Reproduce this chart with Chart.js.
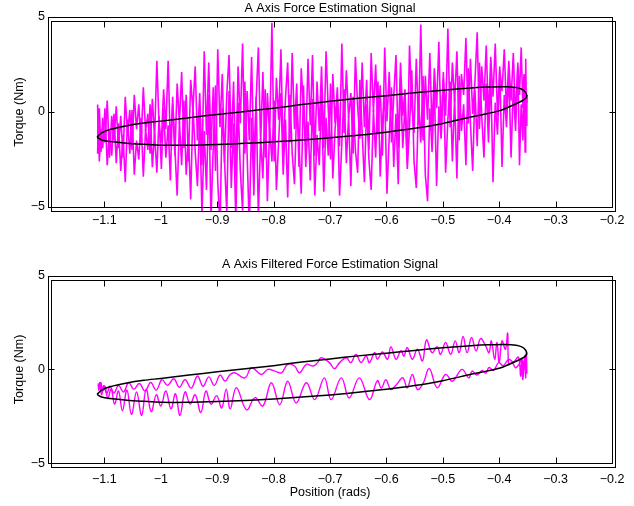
<!DOCTYPE html>
<html>
<head>
<meta charset="utf-8">
<script src="https://cdn.jsdelivr.net/npm/chart.js@4/dist/chart.umd.min.js"></script>
<style>
  html, body { margin: 0; padding: 0; background: #fff; }
  #wrap { position: relative; width: 634px; height: 506px; overflow: hidden; background: #fff; }
  #wrap canvas { position: absolute; left: 0; }
  #forceRaw { top: 0; }
  #forceFiltered { top: 253px; }
</style>
</head>
<body>
<div id="wrap">
  <canvas id="forceRaw" width="634" height="253"></canvas>
  <canvas id="forceFiltered" width="634" height="253"></canvas>
</div>
<script>
// Axis ticks
const xTickValues = [-1.1, -1.0, -0.9, -0.8, -0.7, -0.6, -0.5, -0.4, -0.3, -0.2];
const yTickValues = [-5, 0, 5];

// Model loop (black): position (rads) and torque (Nm), traced once around
const modelPosition = [-1.113, -1.105, -1.09, -1.06, -1.03, -1.0, -0.95, -0.9, -0.85, -0.8, -0.75, -0.7, -0.65, -0.6, -0.55, -0.5, -0.45, -0.42, -0.39, -0.37, -0.36, -0.354, -0.351, -0.353, -0.36, -0.38, -0.40, -0.43, -0.45, -0.5, -0.55, -0.6, -0.65, -0.7, -0.75, -0.8, -0.85, -0.9, -0.95, -1.0, -1.03, -1.06, -1.09, -1.105, -1.113];
const modelTorque = [-1.33, -1.10, -0.92, -0.72, -0.58, -0.48, -0.30, -0.13, 0.03, 0.20, 0.39, 0.56, 0.72, 0.86, 1.01, 1.15, 1.26, 1.31, 1.33, 1.29, 1.20, 1.06, 0.86, 0.72, 0.58, 0.30, 0.06, -0.14, -0.26, -0.60, -0.86, -1.06, -1.22, -1.36, -1.47, -1.57, -1.65, -1.71, -1.75, -1.75, -1.70, -1.64, -1.55, -1.47, -1.33];

// Raw estimate: sample positions shared by the outgoing and returning strokes
const rawPosition = [
  -1.112, -1.111, -1.109, -1.106, -1.103, -1.099, -1.095, -1.091, -1.087, -1.083,
  -1.079, -1.075, -1.071, -1.067, -1.063, -1.059, -1.055, -1.051, -1.047, -1.043,
  -1.039, -1.035, -1.031, -1.027, -1.023, -1.019, -1.015, -1.011, -1.007, -1.003,
  -0.999, -0.995, -0.991, -0.987, -0.983, -0.979, -0.975, -0.971, -0.967, -0.963,
  -0.959, -0.955, -0.951, -0.947, -0.943, -0.939, -0.935, -0.931, -0.927, -0.923,
  -0.919, -0.915, -0.911, -0.907, -0.903, -0.899, -0.895, -0.891, -0.887, -0.883,
  -0.879, -0.875, -0.871, -0.867, -0.863, -0.859, -0.855, -0.851, -0.847, -0.843,
  -0.839, -0.835, -0.831, -0.827, -0.823, -0.819, -0.815, -0.811, -0.807, -0.803,
  -0.799, -0.795, -0.791, -0.787, -0.783, -0.779, -0.775, -0.771, -0.767, -0.763,
  -0.759, -0.755, -0.751, -0.747, -0.743, -0.739, -0.735, -0.731, -0.727, -0.723,
  -0.719, -0.715, -0.711, -0.707, -0.703, -0.699, -0.695, -0.691, -0.687, -0.683,
  -0.679, -0.675, -0.671, -0.667, -0.663, -0.659, -0.655, -0.651, -0.647, -0.643,
  -0.639, -0.635, -0.631, -0.627, -0.623, -0.619, -0.615, -0.611, -0.607, -0.603,
  -0.599, -0.595, -0.591, -0.587, -0.583, -0.579, -0.575, -0.571, -0.567, -0.563,
  -0.559, -0.555, -0.551, -0.547, -0.543, -0.539, -0.535, -0.531, -0.527, -0.523,
  -0.519, -0.515, -0.511, -0.507, -0.503, -0.499, -0.495, -0.491, -0.487, -0.483,
  -0.479, -0.475, -0.471, -0.467, -0.463, -0.459, -0.455, -0.451, -0.447, -0.443,
  -0.439, -0.435, -0.431, -0.427, -0.423, -0.419, -0.415, -0.411, -0.407, -0.403,
  -0.399, -0.395, -0.391, -0.387, -0.383, -0.379, -0.375, -0.371, -0.367, -0.364,
  -0.361, -0.358, -0.356, -0.354, -0.353, -0.352, -0.351
];
const rawTorqueOut = [
  0.4, -1.8, 0.2, -2.1, -0.3, -1.6, 0.6, -2.4, -0.2, -1.5,
  0.3, -1.9, -0.2, -2.4, 0.8, -1.2, 0.1, -2.0, 0.9, -0.9, 0.4, -1.7, 1.3, -1.0, -0.1, -2.2, 0.7, -1.4, 2.7, -0.8,
  -1.6, 1.2, -0.9, 2.7, -1.8, 0.4, -2.3, 1.5, -0.6, 2.1, -1.9, 0.9, -2.6, 1.7, 0.1, 2.4, -1.5, 1.0, -2.8, 3.2,
  -1.2, 2.6, -2.0, 1.3, -3.1, 3.3, -0.8, 2.0, -2.7, 0.9, 3.0, -1.9, 1.6, -3.4, 2.4, -0.6, 3.6, -2.2, 1.1, -1.5, 2.9, -2.8, 0.6, 3.4, -1.7,
  2.1, -2.4, 1.0, -1.3, 4.7, -2.6, 1.8, -0.4, 3.3, -2.1, 0.7, 2.6, -1.6, 3.1, -0.9, 1.5, -2.9, 2.3, 0.2, -1.8, 2.8, -0.7, 3.0, -2.3, 1.6,
  -1.0, 2.4, -1.9, 3.2, 0.1, -2.5, 2.0, -0.6, 1.3, -1.8, 3.6, -1.1, 2.2, -0.3, 1.0, -2.2, 2.9, 0.3, -1.4, 2.6, -0.8, 1.7, -2.0, 3.1, 0.0,
  2.5, -1.2, 1.4, -2.3, 3.4, -0.5, 2.1, -1.6, 0.8, 3.0, -1.9, 2.6, -0.2, 1.2, -2.6, 3.5, 0.4, -1.1, 2.8, -0.7, 4.6, -1.5, 1.9, -0.4, 3.1,
  -1.0, 2.3, 0.2, 3.7, -1.3, 1.8, -0.2, 4.4, -0.8, 2.6, 0.5, 3.2, -1.5, 2.0, 0.9, 3.9, -0.6, 2.8, -0.1, 1.6, 4.2, -0.9, 2.4, 0.6, 3.5,
  -0.4, 2.9, 0.8, 3.6, -0.2, 2.2, 1.1, 3.3, 0.0, 2.7,
  0.6, 3.1, -0.3, 2.4, 0.9, 3.4, 0.2, 2.0, 1.2, 2.8, 0.5, 0.9
];
const rawTorqueBack = [
  -2.2, -0.3, -2.6, -0.9, -1.9, 0.2, -2.8, -1.0, -2.3, -0.1,
  -2.7, -0.6, -3.1, -1.2, -3.7, -0.4, -2.2, 0.1, -3.3, -1.5, -2.5, -0.3, -3.4, -0.9, -2.0, 0.4, -2.9, -1.1, -3.2, -0.2,
  -3.0, 0.2, -2.4, -0.7, -3.6, 0.8, -1.9, -4.4, -0.5, -2.8, 0.6, -3.3, -1.2, -4.6, 0.3, -2.1, -3.9, -0.2, -5.4, -1.0,
  -4.1, 0.9, -5.6, -1.8, 1.4, -3.7, -6.0, 0.2, -2.6, -5.3, 1.1, -4.0, -0.6, -5.8, 0.5, -3.1, -5.2, 1.6, -2.2, -6.1, -0.3, -4.4, 0.8, -5.5, -1.4,
  -3.5, 1.2, -4.7, -0.8, -2.6, 0.6, -4.1, -1.5, 1.0, -3.3, -0.4, -4.5, 0.9, -2.2, -3.8, 0.3, -1.7, -4.3, 1.4, -2.9, -0.5, -3.6, 0.7, -4.4, -1.2,
  -2.8, 0.9, -4.2, -0.3, -2.3, 1.5, -3.5, -0.9, 0.5, -4.4, -1.6, 1.2, -2.7, -0.2, -3.9, 0.8, -2.0, -3.2, 1.7, -1.1, -3.7, 0.4, -2.5, -4.1, 0.1,
  -2.4, 1.6, -3.4, -0.5, 0.9, -4.3, -1.3, 1.3, -2.9, -0.1, -3.8, 1.8, -1.9, 0.4, -3.0, -0.8, 2.2, -2.6, -4.0, 0.7, -1.6, 1.9, -3.3, -4.7, 0.2,
  -2.1, 1.4, -3.9, 0.3, -1.4, 2.1, -3.2, -0.4, 1.6, -2.6, 0.8, -3.5, 1.9, -1.0, 0.4, -2.8, 2.3, -0.6, -3.1, 1.2, -1.8, 2.6, -0.2, -2.4, 1.5,
  -1.6, 2.0, -3.7, 0.5, -1.2, 2.4, -2.9, 0.9, -0.8, 2.2,
  -2.4, 1.3, -1.0, 2.6, -2.8, 0.4, -1.5, 1.9, -2.1, 1.1, -0.7, 0.8
];

// Filtered estimate: lower stroke left to right, then upper stroke back to the left
const filteredPosition = [
  -1.111, -1.109, -1.106, -1.103, -1.099, -1.094, -1.088, -1.082, -1.075, -1.068,
  -1.060, -1.052, -1.043, -1.034, -1.026, -1.017, -1.008, -1.000, -0.991, -0.982,
  -0.974, -0.966, -0.957, -0.948, -0.939, -0.929, -0.920, -0.911, -0.901, -0.892,
  -0.884, -0.877, -0.866, -0.848, -0.833, -0.819, -0.804, -0.789, -0.775, -0.760,
  -0.742, -0.727, -0.710, -0.698, -0.680, -0.666, -0.648, -0.630, -0.616, -0.609,
  -0.601, -0.592, -0.582, -0.571, -0.563, -0.554, -0.545, -0.535, -0.524, -0.510,
  -0.495, -0.483, -0.466, -0.454, -0.448, -0.440, -0.430, -0.424, -0.418, -0.410,
  -0.401, -0.393, -0.383, -0.375, -0.366, -0.362, -0.360, -0.358, -0.355, -0.353,
  -0.352, -0.351, -0.353, -0.356, -0.360, -0.365, -0.371, -0.377, -0.383, -0.385,
  -0.389, -0.395, -0.400, -0.404, -0.408, -0.414, -0.418, -0.424, -0.433, -0.441,
  -0.449, -0.457, -0.464, -0.471, -0.478, -0.486, -0.495, -0.504, -0.510, -0.519,
  -0.529, -0.536, -0.545, -0.554, -0.563, -0.569, -0.574, -0.583, -0.592, -0.598,
  -0.607, -0.616, -0.621, -0.630, -0.636, -0.645, -0.654, -0.663, -0.671, -0.683,
  -0.692, -0.701, -0.716, -0.722, -0.730, -0.742, -0.754, -0.763, -0.775, -0.786,
  -0.798, -0.810, -0.822, -0.839, -0.851, -0.869, -0.877, -0.886, -0.895, -0.905,
  -0.915, -0.925, -0.935, -0.946, -0.957, -0.967, -0.977, -0.988, -0.998, -1.008,
  -1.018, -1.028, -1.038, -1.048, -1.057, -1.066, -1.075, -1.083, -1.090, -1.096,
  -1.101, -1.105, -1.108, -1.110, -1.111
];
const filteredTorque = [
  -0.75, -1.05, -0.70, -1.15, -0.90, -1.55, -1.05, -1.85, -1.15, -2.20,
  -1.10, -2.40, -1.20, -2.45, -1.05, -2.25, -1.35, -1.95, -1.15, -2.10,
  -1.30, -2.45, -1.20, -1.85, -1.35, -2.30, -1.15, -1.85, -1.40, -2.05,
  -1.05, -2.10, -0.98, -2.15, -1.50, -1.95, -0.71, -1.88, -0.63, -1.79,
  -0.71, -1.61, -0.45, -1.61, -0.45, -1.52, -0.45, -1.61, -0.60, -1.00,
  -0.55, -1.07, -0.80, -0.45, -0.98, -0.27, -1.07, -0.75, 0.04, -0.98,
  -0.27, -0.63, 0.00, -0.45, -0.09, -0.30, -0.05, -0.20, 0.10, -0.05,
  0.36, 0.20, 0.54, 0.40, 0.65, -0.36, 0.54, -0.54, 0.71, -0.45,
  0.89, -0.20, 0.80, 0.05, 0.55, 0.27, 0.09, 0.36, 0.27, 1.93,
  1.07, 1.52, 0.36, 1.43, 0.54, 1.52, 0.89, 1.25, 1.64, 0.98,
  1.70, 0.89, 1.75, 0.89, 1.52, 0.80, 1.43, 0.80, 1.21, 0.89,
  1.57, 0.45, 1.07, 0.54, 1.16, 0.71, 1.00, 0.54, 1.21, 0.54,
  0.93, 0.55, 0.89, 0.36, 0.71, 0.36, 0.80, 0.36, 0.62, 0.36,
  0.04, 0.36, 0.62, 0.36, 0.18, 0.27, -0.18, 0.18, 0.27, -0.18,
  -0.09, 0.00, -0.27, 0.09, -0.45, -0.18, -0.27, -0.62, -0.30, -0.85,
  -0.40, -0.90, -0.35, -1.00, -0.55, -0.95, -0.50, -0.85, -0.55, -1.10,
  -0.70, -1.15, -0.75, -1.05, -0.70, -1.20, -0.85, -1.25, -0.90, -1.30,
  -0.85, -1.35, -0.70, -1.10, -0.80
];

const FONT = "'Liberation Sans', Arial, Helvetica, sans-serif";
const FONT_SIZE = 12.5;
const MAGENTA = '#ff00ff';

function points(xs, ys) {
  return xs.map((x, i) => ({ x: x, y: ys[i] }));
}

function tickText(v) {
  return String(Math.round(v * 10) / 10).replace('-', '\u2212');
}

// Double box frame with inward tick marks
const framePlugin = {
  id: 'frame',
  afterDraw(chart, args, opts) {
    const { ctx, chartArea: a, scales } = chart;
    const dx = opts.dx, dy = opts.dy;
    const L = Math.round(a.left) + 0.5, T = Math.round(a.top) + 0.5;
    const R = Math.round(a.right) + 0.5, B = Math.round(a.bottom) + 0.5;
    ctx.save();
    ctx.strokeStyle = '#000';
    ctx.lineWidth = 1;
    ctx.strokeRect(L, T, R - L, B - T);
    ctx.strokeRect(L + dx, T + dy, R - L, B - T);
    ctx.beginPath();
    xTickValues.forEach(v => {
      const px = Math.round(scales.x.getPixelForValue(v)) + 0.5;
      if (px > R - 2) return;
      ctx.moveTo(px, B); ctx.lineTo(px, B - 6);
      ctx.moveTo(px, T + dy); ctx.lineTo(px, T + dy + 6);
    });
    yTickValues.forEach(v => {
      const py = Math.round(scales.y.getPixelForValue(v)) + 0.5;
      if (py < T + 2 || py > B - 2) return;
      ctx.moveTo(L, py); ctx.lineTo(L + 6, py);
      ctx.moveTo(R + dx, py); ctx.lineTo(R + dx - 6, py);
    });
    ctx.stroke();
    ctx.restore();
  }
};

function makeChart(id, titleText, titlePad, layout, datasets) {
  return new Chart(document.getElementById(id), {
    type: 'line',
    data: { datasets: datasets },
    plugins: [framePlugin],
    options: {
      responsive: false,
      devicePixelRatio: 1,
      animation: false,
      events: [],
      layout: { padding: { left: 0, right: 22, top: 0, bottom: 0 } },
      elements: { point: { radius: 0 } },
      plugins: {
        legend: { display: false },
        tooltip: { enabled: false },
        title: {
          display: true, text: titleText, color: '#000', fullSize: false,
          font: { family: FONT, size: FONT_SIZE, weight: 'normal' },
          padding: titlePad
        },
        frame: { dx: 3, dy: 4 }
      },
      scales: {
        x: {
          type: 'linear', min: -1.2, max: -0.2,
          grid: { display: false, drawTicks: false }, border: { display: false },
          afterBuildTicks: s => { s.ticks = xTickValues.map(v => ({ value: v })); },
          afterFit: s => { s.height = layout.xHeight; },
          ticks: {
            autoSkip: false, maxRotation: 0, padding: layout.xPad, color: '#000',
            font: { family: FONT, size: FONT_SIZE },
            callback: v => tickText(v)
          },
          title: layout.xTitle ? {
            display: true, text: layout.xTitle, color: '#000',
            font: { family: FONT, size: FONT_SIZE },
            padding: { top: 0, bottom: layout.xTitlePad }
          } : { display: false }
        },
        y: {
          type: 'linear', min: -5, max: 5,
          grid: { display: false, drawTicks: false }, border: { display: false },
          afterBuildTicks: s => { s.ticks = yTickValues.map(v => ({ value: v })); },
          afterFit: s => { s.width = 48; },
          ticks: {
            padding: 3, color: '#000',
            font: { family: FONT, size: FONT_SIZE },
            callback: v => tickText(v)
          },
          title: {
            display: true, text: 'Torque (Nm)', color: '#000',
            font: { family: FONT, size: FONT_SIZE },
            padding: { top: 12.5, bottom: 0 }
          }
        }
      }
    }
  });
}

const modelSet = () => ({
  data: points(modelPosition, modelTorque),
  borderColor: '#000', borderWidth: 1.5, tension: 0.3, order: 0, fill: false
});

makeChart('forceRaw', 'A Axis Force Estimation Signal', { top: 0.8, bottom: 1.2 },
  { xHeight: 46, xPad: 6 },
  [
    modelSet(),
    { data: points(rawPosition, rawTorqueOut), borderColor: MAGENTA, borderWidth: 1.6, tension: 0, order: 1, fill: false,
      clip: { left: 0, top: 0, right: 0, bottom: 4 } },
    { data: points(rawPosition, rawTorqueBack), borderColor: MAGENTA, borderWidth: 1.6, tension: 0, order: 1, fill: false,
      clip: { left: 0, top: 0, right: 0, bottom: 4 } }
  ]);

makeChart('forceFiltered', 'A Axis Filtered Force Estimation Signal', { top: 4.5, bottom: 3 },
  { xHeight: 42.7, xPad: 8.5, xTitle: 'Position (rads)', xTitlePad: 6.4 },
  [
    modelSet(),
    { data: points(filteredPosition, filteredTorque), borderColor: MAGENTA, borderWidth: 1.4, tension: 0.4, order: 1, fill: false }
  ]);
</script>
</body>
</html>
